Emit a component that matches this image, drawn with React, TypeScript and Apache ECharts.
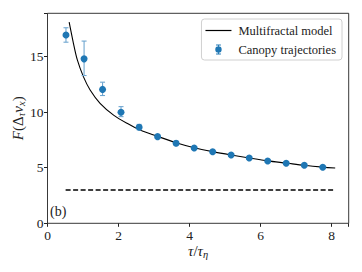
import React, { useEffect, useRef } from "react";
import * as echarts from "echarts";

const tauPoints = [0.52, 1.03, 1.55, 2.07, 2.58, 3.1, 3.62, 4.13, 4.65, 5.17, 5.68, 6.2, 6.72, 7.23, 7.75];
const fPoints = [16.95, 14.8, 12.05, 10.0, 8.65, 7.8, 7.2, 6.77, 6.44, 6.14, 5.87, 5.6, 5.4, 5.22, 5.04];
const errLow = [16.3, 13.3, 11.5, 9.6, 8.42, 7.65, 7.0, 6.65, 6.34, 6.05, 5.79, 5.53, 5.33, 5.16, 4.98];
const errHigh = [17.6, 16.4, 12.7, 10.5, 8.9, 7.95, 7.4, 6.9, 6.54, 6.23, 5.95, 5.67, 5.47, 5.28, 5.1];

const modelTau = [0.61, 0.73, 0.84, 1.01, 1.2, 1.48, 1.86, 2.24, 2.61, 3.08, 3.62, 4.13, 4.65, 5.17, 5.68, 6.2, 6.72, 7.23, 7.75, 8.1];
const modelF = [18.1, 16.2, 14.7, 13.2, 12.0, 10.8, 9.74, 9.0, 8.4, 7.85, 7.25, 6.8, 6.45, 6.15, 5.88, 5.62, 5.42, 5.22, 5.06, 4.98];

const baseTau = [0.51, 8.08];
const baseF = [3, 3];

const xTicks = [0, 2, 4, 6, 8];
const yTicks = [0, 5, 10, 15];

const serif = "'Liberation Serif', 'DejaVu Serif', serif";
const blue = "#1f77b4";

const errIcon =
  "path://M0,5 L0.01,5 L0.01,5.01 Z M26,5 L25.99,5 L25.99,5.01 Z " +
  "M10.6,0 L15.4,0 L15.4,0.9 L10.6,0.9 Z M12.55,0 L13.45,0 L13.45,10 L12.55,10 Z " +
  "M10.6,9.1 L15.4,9.1 L15.4,10 L10.6,10 Z M16.2,5 A3.2,3.2 0 1 1 9.8,5 A3.2,3.2 0 1 1 16.2,5 Z";

export default function App() {
  const ref = useRef<HTMLDivElement>(null);
  useEffect(() => {
    const chart = echarts.init(ref.current!, null, { renderer: "svg" });
    const errData = tauPoints.map((t, i) => [t, errLow[i], errHigh[i]]);
    const richName = {
      i: { fontFamily: serif, fontStyle: "italic", fontSize: 15, color: "#222" },
      n: { fontFamily: serif, fontSize: 15, color: "#222" },
      s: { fontFamily: serif, fontStyle: "italic", fontSize: 10.5, color: "#222", padding: [7, 0, 0, 0] },
    };
    chart.setOption({
      animation: false,
      backgroundColor: "#fff",
      textStyle: { fontFamily: serif },
      grid: {
        left: 47.5,
        right: 13.3,
        top: 13.3,
        bottom: 48.7,
        show: true,
        borderColor: "#222",
        borderWidth: 0.9,
        backgroundColor: "transparent",
      },
      xAxis: {
        type: "value",
        min: 0,
        max: 8.48,
        interval: 2,
        splitLine: { show: false },
        axisLine: { show: false },
        axisTick: { show: true, inside: false, length: 3.5, lineStyle: { color: "#222" } },
        axisLabel: {
          fontFamily: serif,
          fontSize: 13.5,
          color: "#222",
          margin: 5,
          formatter: (v: number) => (xTicks.includes(v) ? String(v) : ""),
        },
        name: "{i|τ}{n|/}{i|τ}{s|η}",
        nameLocation: "middle",
        nameGap: 19,
        nameMoveOverlap: false,
        nameTextStyle: { rich: richName, fontFamily: serif, fontSize: 15, color: "#222" },
      },
      yAxis: {
        type: "value",
        min: 0,
        max: 18.9,
        interval: 5,
        splitLine: { show: false },
        axisLine: { show: false },
        axisTick: { show: true, inside: false, length: 3.5, lineStyle: { color: "#222" } },
        axisLabel: {
          fontFamily: serif,
          fontSize: 13.5,
          color: "#222",
          margin: 4,
          formatter: (v: number) => (yTicks.includes(v) ? String(v) : ""),
        },
        name: "{i|F}{n|(Δ}{s|τ}{i|v}{s|x}{n|)}",
        nameLocation: "middle",
        nameGap: 21,
        nameMoveOverlap: false,
        nameRotate: 90,
        nameTextStyle: { rich: richName, fontFamily: serif, fontSize: 15, color: "#222" },
      },
      legend: {
        orient: "vertical",
        right: 20,
        top: 19,
        backgroundColor: "rgba(255,255,255,0.85)",
        borderColor: "#d0d0d0",
        borderWidth: 1,
        borderRadius: 3,
        padding: [5, 6, 4, 4],
        itemWidth: 26,
        itemHeight: 10,
        itemGap: 6,
        textStyle: { fontFamily: serif, fontSize: 12.5, color: "#222", padding: [0, 0, 0, 2] },
        data: [
          { name: "Multifractal model", icon: "path://M0,0 L26,0 L26,1.2 L0,1.2 Z", itemStyle: { color: "#000" } },
          { name: "Canopy trajectories", icon: errIcon, itemStyle: { color: blue } },
        ],
      },
      graphic: [
        {
          type: "text",
          left: 50,
          top: 204,
          style: { text: "(b)", fontFamily: serif, fontSize: 14, fill: "#222" },
        },
      ],
      series: [
        {
          name: "baseline",
          type: "line",
          data: baseTau.map((t, i) => [t, baseF[i]]),
          showSymbol: false,
          lineStyle: { color: "#000", width: 1.4, type: [5, 2.5] },
          silent: true,
        },
        {
          name: "Multifractal model",
          type: "line",
          data: modelTau.map((t, i) => [t, modelF[i]]),
          showSymbol: false,
          smooth: 0.3,
          lineStyle: { color: "#000", width: 1.1 },
          itemStyle: { color: "#000" },
          z: 3,
        },
        {
          name: "Canopy trajectories",
          type: "custom",
          data: errData,
          z: 4,
          renderItem: (params: any, api: any) => {
            const x = api.value(0);
            const lo = api.coord([x, api.value(1)]);
            const hi = api.coord([x, api.value(2)]);
            const cap = 2.5;
            const st = { stroke: "#6fa6d0", lineWidth: 1.1 };
            return {
              type: "group",
              children: [
                { type: "line", shape: { x1: lo[0], y1: lo[1], x2: hi[0], y2: hi[1] }, style: st },
                { type: "line", shape: { x1: lo[0] - cap, y1: lo[1], x2: lo[0] + cap, y2: lo[1] }, style: st },
                { type: "line", shape: { x1: hi[0] - cap, y1: hi[1], x2: hi[0] + cap, y2: hi[1] }, style: st },
              ],
            };
          },
          itemStyle: { color: blue },
        },
        {
          name: "Canopy trajectories",
          type: "scatter",
          data: tauPoints.map((t, i) => [t, fPoints[i]]),
          symbol: "circle",
          symbolSize: 7,
          itemStyle: { color: blue, opacity: 1 },
          z: 5,
        },
      ],
    });
    return () => chart.dispose();
  }, []);
  return <div ref={ref} style={{ width: 362, height: 272, position: "absolute", left: 0, top: 0 }} />;
}
